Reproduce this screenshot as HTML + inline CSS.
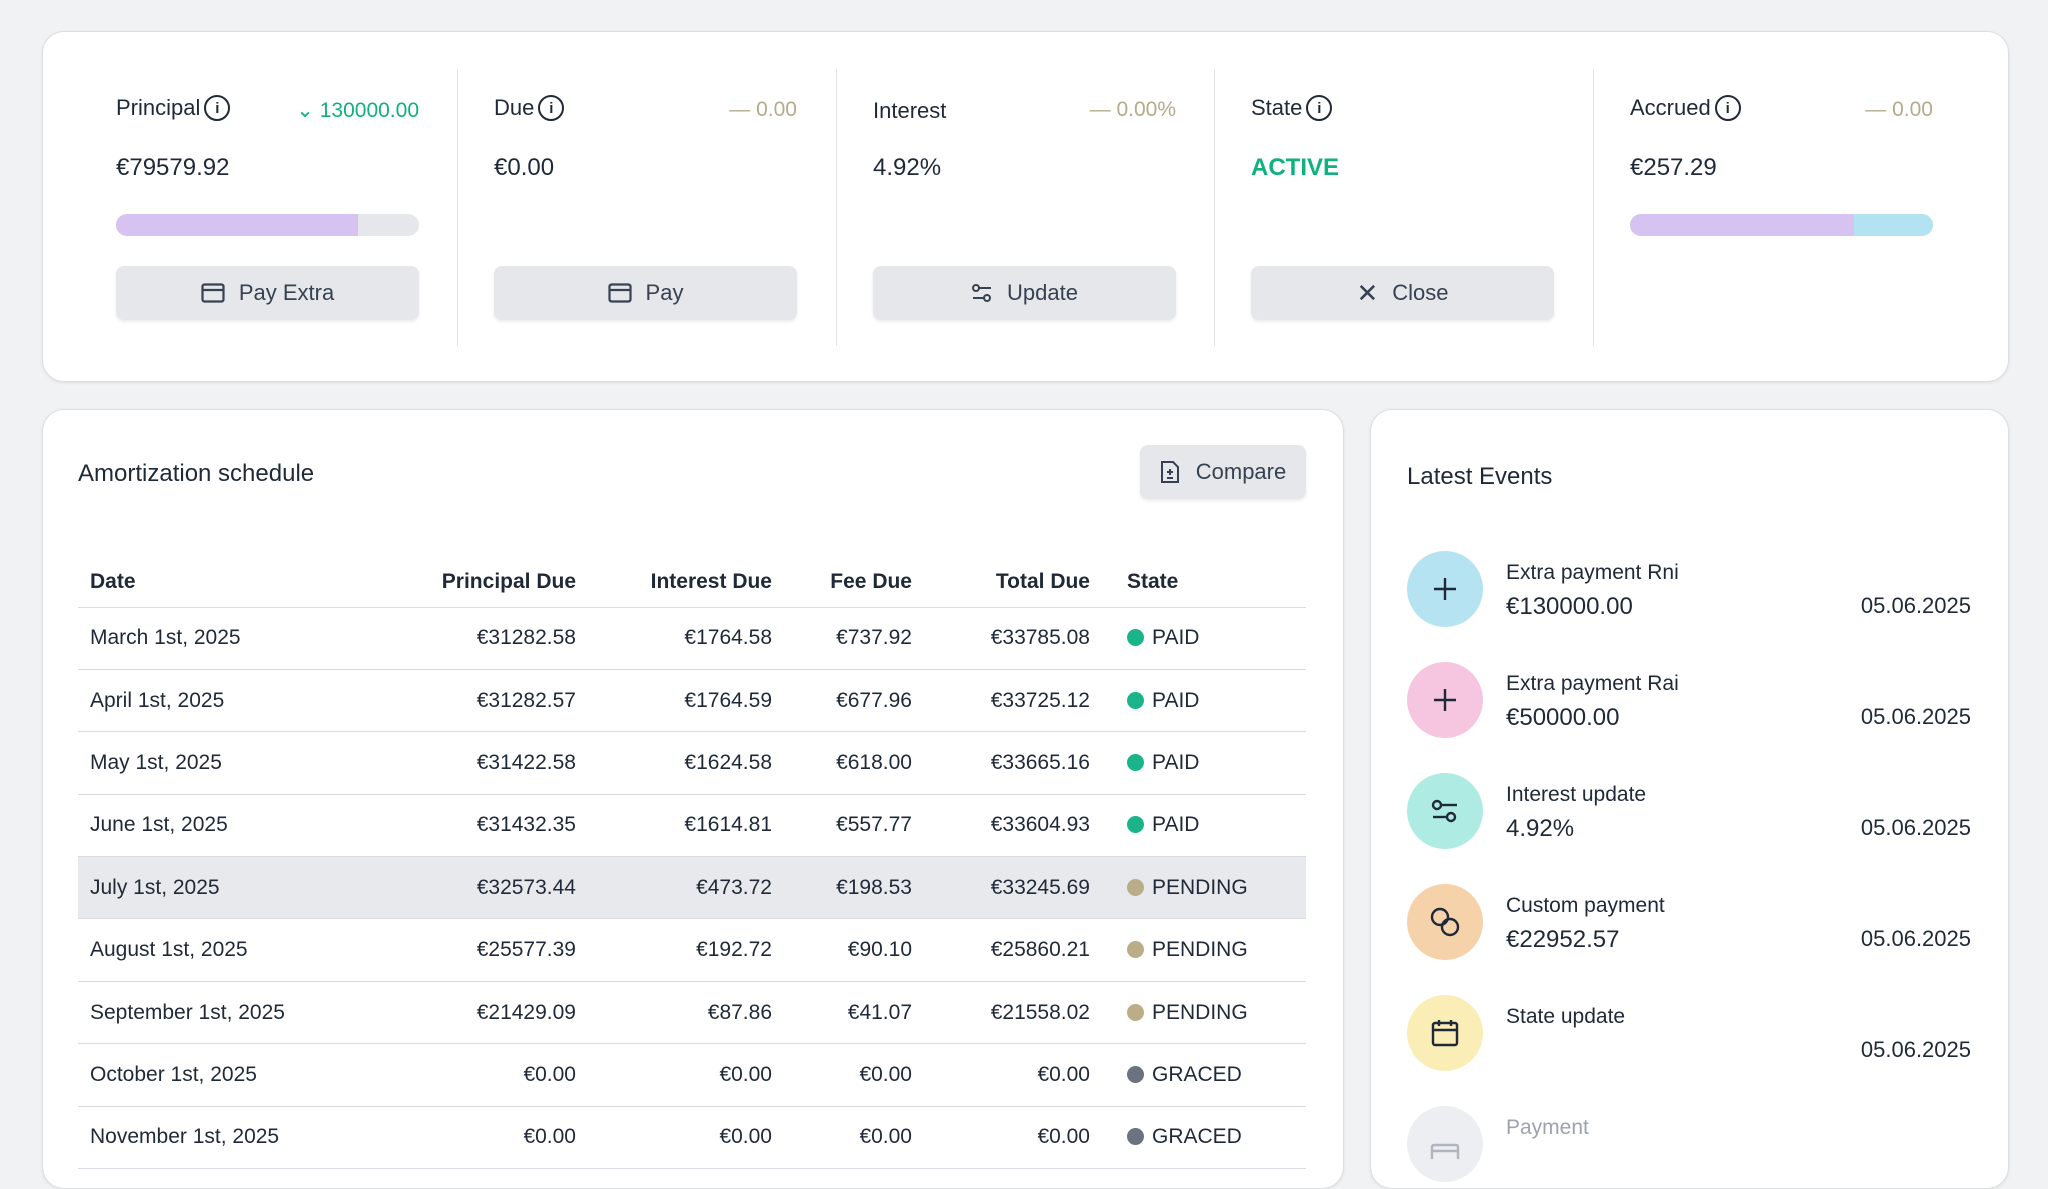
<!DOCTYPE html>
<html><head><meta charset="utf-8">
<style>
*{box-sizing:border-box;margin:0;padding:0}
body{width:2048px;height:1150px;overflow:hidden;background:#f1f2f4;font-family:"Liberation Sans",sans-serif;color:#1f2937;position:relative}
.card{position:absolute;background:#fff;border:1px solid #dcdee3;border-radius:22px;box-shadow:0 1px 3px rgba(0,0,0,.08)}
.col{position:absolute;top:0;width:303px}
.lbl{position:absolute;top:63px;font-size:22px;color:#1f2937;display:flex;align-items:center;gap:4px}
.info{width:26px;height:26px;border:2.5px solid #1f2937;border-radius:50%;font-size:15px;display:inline-flex;align-items:center;justify-content:center;font-weight:bold}
.delta{position:absolute;top:66px;right:0;font-size:21px;color:#b5ab8a}
.val{position:absolute;top:122px;font-size:24px}
.bar{position:absolute;top:182px;width:303px;height:22px;border-radius:11px;overflow:hidden;background:#e5e7eb;display:flex}
.btn{position:absolute;top:234px;width:303px;height:54px;background:#e5e7eb;border-radius:8px;box-shadow:0 2px 3px rgba(0,0,0,.08);display:flex;align-items:center;justify-content:center;gap:14px;font-size:22px;color:#374151}
.div{position:absolute;top:37px;width:1px;height:277px;background:#e1e3e7}
table{position:absolute;left:78px;top:557px;width:1228px;border-collapse:collapse;font-size:21px;table-layout:fixed}
th{font-weight:bold;height:50px;text-align:right;border-bottom:1px solid #d8dbe0}
td{height:62.4px;text-align:right;border-bottom:1px solid #d8dbe0;color:#1f2937}
th:first-child,td:first-child{text-align:left;padding-left:12px}
th:last-child,td:last-child{text-align:left;padding-left:37px}
.dot{display:inline-block;width:17px;height:17px;border-radius:50%;vertical-align:-2px;margin-right:8px}
.ev{position:absolute;left:1407px;width:564px;height:80px}
.ic{position:absolute;left:0;top:0;width:76px;height:76px;border-radius:50%;display:flex;align-items:center;justify-content:center}
.et{position:absolute;left:99px;top:10px;font-size:21px;color:#1f2937}
.ea{position:absolute;left:99px;top:42px;font-size:24px}
.ed{position:absolute;right:0;top:42px;font-size:22px}
</style></head><body>
<div class="card" style="left:42px;top:31px;width:1967px;height:351px">
  <div class="div" style="left:414px"></div>
  <div class="div" style="left:793px"></div>
  <div class="div" style="left:1171px"></div>
  <div class="div" style="left:1550px"></div>

  <div class="col" style="left:73px">
    <div class="lbl">Principal <span class="info">i</span></div>
    <div class="delta" style="color:#10b07f">&#8964; 130000.00</div>
    <div class="val">€79579.92</div>
    <div class="bar"><div style="width:80%;background:#d6c3f1"></div></div>
    <div class="btn"><svg width="24" height="20" viewBox="0 0 24 20"><rect x="1.5" y="1.5" width="21" height="17" rx="2" fill="none" stroke="#374151" stroke-width="2.2"/><line x1="1.5" y1="7" x2="22.5" y2="7" stroke="#374151" stroke-width="2.2"/></svg>Pay Extra</div>
  </div>
  <div class="col" style="left:451px">
    <div class="lbl">Due <span class="info">i</span></div>
    <div class="delta">— 0.00</div>
    <div class="val">€0.00</div>
    <div class="btn"><svg width="24" height="20" viewBox="0 0 24 20"><rect x="1.5" y="1.5" width="21" height="17" rx="2" fill="none" stroke="#374151" stroke-width="2.2"/><line x1="1.5" y1="7" x2="22.5" y2="7" stroke="#374151" stroke-width="2.2"/></svg>Pay</div>
  </div>
  <div class="col" style="left:830px">
    <div class="lbl" style="top:66px">Interest</div>
    <div class="delta">— 0.00%</div>
    <div class="val">4.92%</div>
    <div class="btn"><svg width="22" height="22" viewBox="0 0 22 22" fill="none" stroke="#374151" stroke-width="2"><circle cx="5" cy="6" r="3"/><line x1="8" y1="6" x2="20" y2="6"/><circle cx="16" cy="16" r="3"/><line x1="2" y1="16" x2="13" y2="16"/></svg>Update</div>
  </div>
  <div class="col" style="left:1208px">
    <div class="lbl">State <span class="info">i</span></div>
    <div class="val" style="color:#10b07f;font-weight:bold">ACTIVE</div>
    <div class="btn"><span style="font-size:26px">✕</span>Close</div>
  </div>
  <div class="col" style="left:1587px">
    <div class="lbl">Accrued <span class="info">i</span></div>
    <div class="delta">— 0.00</div>
    <div class="val">€257.29</div>
    <div class="bar"><div style="width:74%;background:#d6c3f1"></div><div style="flex:1;background:#b3e3f1"></div></div>
  </div>
</div>

<div class="card" style="left:42px;top:409px;width:1302px;height:780px"></div>
<div style="position:absolute;left:78px;top:460px;font-size:24px">Amortization schedule</div>
<div class="btn" style="left:1140px;top:445px;width:166px;height:54px;gap:16px"><svg width="20" height="24" viewBox="0 0 20 24" fill="none" stroke="#374151" stroke-width="2"><path d="M2 2h11l5 5v15H2z"/><line x1="10" y1="9" x2="10" y2="15"/><line x1="7" y1="12" x2="13" y2="12"/><line x1="7" y1="18" x2="13" y2="18"/></svg>Compare</div>
<table>
<colgroup><col style="width:270px"><col style="width:228px"><col style="width:196px"><col style="width:140px"><col style="width:178px"><col style="width:216px"></colgroup>
<thead><tr><th>Date</th><th>Principal Due</th><th>Interest Due</th><th>Fee Due</th><th>Total Due</th><th>State</th></tr></thead>
<tbody id="tb"></tbody></table>

<div class="card" style="left:1370px;top:409px;width:639px;height:780px"></div>
<div style="position:absolute;left:1407px;top:463px;font-size:24px">Latest Events</div>
<div id="events"></div>

<script>
const dates=["March 1st, 2025","April 1st, 2025","May 1st, 2025","June 1st, 2025","July 1st, 2025","August 1st, 2025","September 1st, 2025","October 1st, 2025","November 1st, 2025"];
const principalDue=["€31282.58","€31282.57","€31422.58","€31432.35","€32573.44","€25577.39","€21429.09","€0.00","€0.00"];
const interestDue=["€1764.58","€1764.59","€1624.58","€1614.81","€473.72","€192.72","€87.86","€0.00","€0.00"];
const feeDue=["€737.92","€677.96","€618.00","€557.77","€198.53","€90.10","€41.07","€0.00","€0.00"];
const totalDue=["€33785.08","€33725.12","€33665.16","€33604.93","€33245.69","€25860.21","€21558.02","€0.00","€0.00"];
const states=["PAID","PAID","PAID","PAID","PENDING","PENDING","PENDING","GRACED","GRACED"];
const dotColor={PAID:"#1bb389",PENDING:"#b9ae88",GRACED:"#6b7280"};
const tb=document.getElementById('tb');
dates.forEach((d,i)=>{
  const tr=document.createElement('tr');
  
  
  if(i===4) tr.style.background='#e8e9ec';
  tr.innerHTML='<td>'+d+'</td><td>'+principalDue[i]+'</td><td>'+interestDue[i]+'</td><td>'+feeDue[i]+'</td><td>'+totalDue[i]+'</td><td><span class="dot" style="background:'+dotColor[states[i]]+'"></span>'+states[i]+'</td>';
  tb.appendChild(tr);
});
const evTitles=["Extra payment Rni","Extra payment Rai","Interest update","Custom payment","State update","Payment"];
const evAmounts=["€130000.00","€50000.00","4.92%","€22952.57","",""];
const evDates=["05.06.2025","05.06.2025","05.06.2025","05.06.2025","05.06.2025",""];
const evColors=["#b6e3f2","#f6c6e0","#aeebe2","#f6d2aa","#fbedb6","#e9ebee"];
const S='fill="none" stroke="#1f2937" stroke-width="2.4"';
const evIcons=[
 '<svg width="30" height="30" viewBox="0 0 30 30" '+S+'><line x1="15" y1="4" x2="15" y2="26"/><line x1="4" y1="15" x2="26" y2="15"/></svg>',
 '<svg width="30" height="30" viewBox="0 0 30 30" '+S+'><line x1="15" y1="4" x2="15" y2="26"/><line x1="4" y1="15" x2="26" y2="15"/></svg>',
 '<svg width="30" height="30" viewBox="0 0 30 30" '+S+'><circle cx="7" cy="9" r="4"/><line x1="11" y1="9" x2="27" y2="9"/><circle cx="21" cy="21" r="4"/><line x1="3" y1="21" x2="17" y2="21"/></svg>',
 '<svg width="32" height="32" viewBox="0 0 32 32" '+S+'><circle cx="11" cy="11" r="8"/><circle cx="21" cy="21" r="8"/></svg>',
 '<svg width="30" height="30" viewBox="0 0 30 30" '+S+'><rect x="3" y="5" width="24" height="22" rx="2"/><line x1="3" y1="12" x2="27" y2="12"/><line x1="9" y1="2" x2="9" y2="8"/><line x1="21" y1="2" x2="21" y2="8"/></svg>',
 '<svg width="30" height="30" viewBox="0 0 30 30" fill="none" stroke="#9ca3af" stroke-width="2.4"><rect x="2" y="16" width="26" height="20" rx="2"/><line x1="2" y1="22" x2="28" y2="22"/></svg>'
];
const evWrap=document.getElementById('events');
evTitles.forEach((t,i)=>{
  const e=document.createElement('div');
  e.className='ev';
  e.style.top=(551+i*111)+'px';
  
  
  const faded=i===5;
  e.innerHTML='<div class="ic" style="background:'+evColors[i]+';'+(faded?'opacity:.8':'')+'">'+evIcons[i]+'</div>'+
   '<div class="et" style="'+(faded?'color:#9ca3af':'')+'">'+t+'</div>'+
   '<div class="ea">'+evAmounts[i]+'</div><div class="ed">'+evDates[i]+'</div>';
  evWrap.appendChild(e);
});
</script>
</body></html>
